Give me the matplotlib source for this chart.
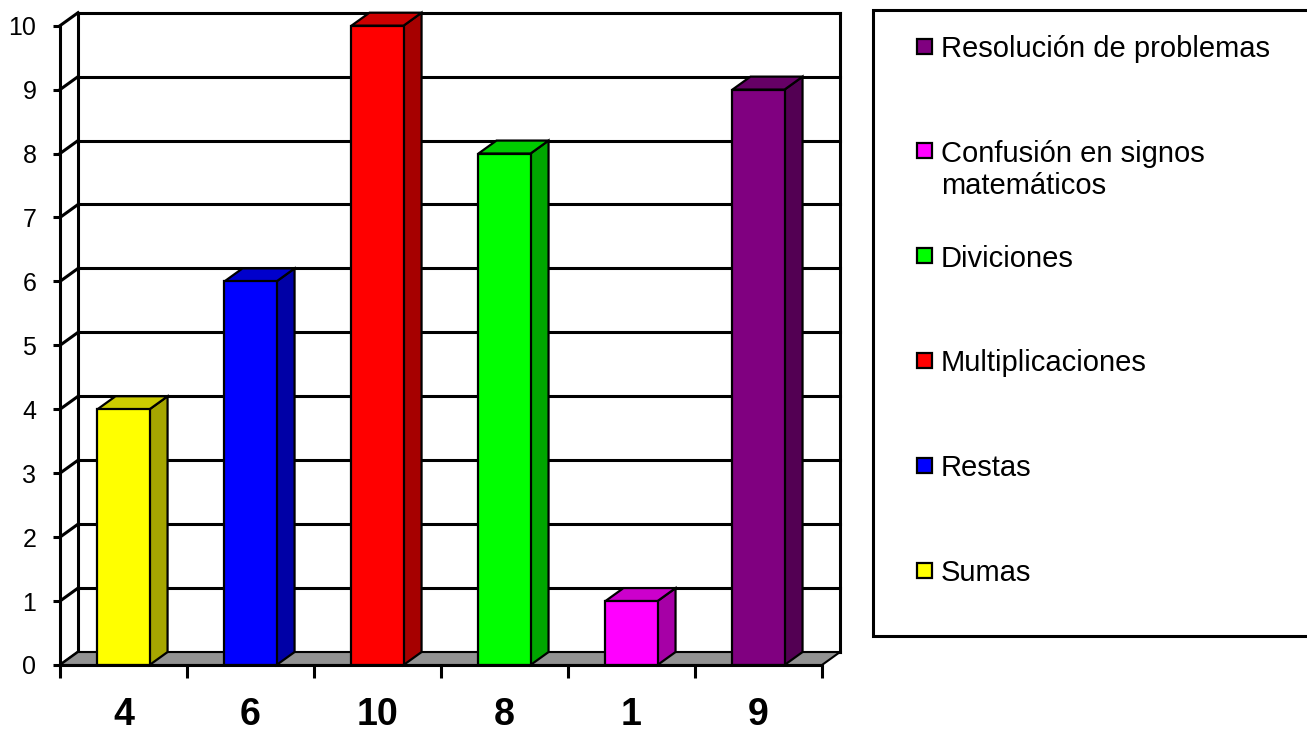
import matplotlib
matplotlib.use("Agg")
import matplotlib.pyplot as plt
from matplotlib.patches import Polygon, Rectangle
from matplotlib.colors import to_rgb

plt.rcParams["font.family"] = ["Liberation Sans", "DejaVu Sans"]

# data
series = ["Sumas", "Restas", "Multiplicaciones", "Diviciones",
          "Confusión en signos\nmatemáticos", "Resolución de problemas"]
values = [4, 6, 10, 8, 1, 9]
xlabels = ["4", "6", "10", "8", "1", "9"]
colors = ["#FFFF00", "#0000FF", "#FF0000", "#00FF00", "#FF00FF", "#800080"]

YMAX = 10
DX, DY = 0.142, 0.203     # depth offset of the 3d box (category / value units)
HALF = 0.205              # half width of a bar front face
LW = 2.2

W, H = 1307, 736
fig = plt.figure(figsize=(W / 100, H / 100), dpi=100)
n = len(values)
ax = fig.add_axes([60 / W, (H - 665) / H, 780 / W, 652.3 / H])
ax.set_xlim(-0.5, n - 0.5 + DX)
ax.set_ylim(0, YMAX + DY)
ax.patch.set_visible(False)

x0, x1 = -0.5, n - 0.5

# back wall + left wall gridlines
for v in range(YMAX + 1):
    ax.plot([x0 + DX, x1 + DX], [v + DY, v + DY], color="k", lw=LW, zorder=1, clip_on=False)
    ax.plot([x0, x0 + DX], [v, v + DY], color="k", lw=LW, zorder=1, clip_on=False)
ax.plot([x0 + DX, x0 + DX], [DY, YMAX + DY], color="k", lw=LW, zorder=1, clip_on=False)
ax.plot([x1 + DX, x1 + DX], [DY, YMAX + DY], color="k", lw=LW, zorder=1, clip_on=False)

# floor
ax.add_patch(Polygon([(x0, 0), (x1, 0), (x1 + DX, DY), (x0 + DX, DY)], closed=True,
                     facecolor="#929292", edgecolor="k", lw=1.5, zorder=2, clip_on=False))


def shade(c, f):
    r, g, b = to_rgb(c)
    return (r * f, g * f, b * f)


for i, (v, c) in enumerate(zip(values, colors)):
    l, r = i - HALF, i + HALF
    ax.add_patch(Polygon([(r, 0), (r + DX, DY), (r + DX, v + DY), (r, v)], closed=True,
                         facecolor=shade(c, 0.65), edgecolor="k", lw=1.6, zorder=3, clip_on=False))
    ax.add_patch(Polygon([(l, v), (r, v), (r + DX, v + DY), (l + DX, v + DY)], closed=True,
                         facecolor=shade(c, 0.8), edgecolor="k", lw=1.6, zorder=3, clip_on=False))
    ax.add_patch(Rectangle((l, 0), 2 * HALF, v, facecolor=c, edgecolor="k", lw=1.6,
                           zorder=3, clip_on=False))

# axes
for s in ("top", "right"):
    ax.spines[s].set_visible(False)
ax.spines["left"].set_bounds(0, YMAX)
ax.spines["bottom"].set_bounds(x0, x1)
ax.spines["left"].set_linewidth(LW)
ax.spines["bottom"].set_linewidth(LW)
ax.spines["bottom"].set_zorder(4)

ax.set_yticks(range(YMAX + 1))
ax.tick_params(axis="y", length=5, width=LW, pad=12, labelsize=18)
ax.set_xticks([k - 0.5 for k in range(n + 1)])
ax.set_xticklabels([])
ax.tick_params(axis="x", which="major", length=9, width=LW)
ax.set_xticks(range(n), minor=True)
ax.set_xticklabels(xlabels, minor=True, fontsize=27, fontweight="bold")
ax.tick_params(axis="x", which="minor", length=0, pad=23)

# legend (drawn by hand to keep Excel's even entry spacing)
fig.patches.append(Rectangle((873 / W, (H - 636) / H), (W + 10 - 873) / W, 626 / H,
                             transform=fig.transFigure, facecolor="white",
                             edgecolor="k", lw=LW, clip_on=False))
step = 104.8
for k, (name, c) in enumerate(zip(series[::-1], colors[::-1])):
    yc = 46 + k * step
    fig.patches.append(Rectangle((917 / W, (H - yc - 7.5) / H), 15 / W, 15 / H,
                                 transform=fig.transFigure, facecolor=c,
                                 edgecolor="k", lw=1.6))
    fig.text(941 / W, (H - yc + 11) / H, name, fontsize=21, va="top", ha="left",
             linespacing=1.2)

fig.savefig("out.png", dpi=100)
